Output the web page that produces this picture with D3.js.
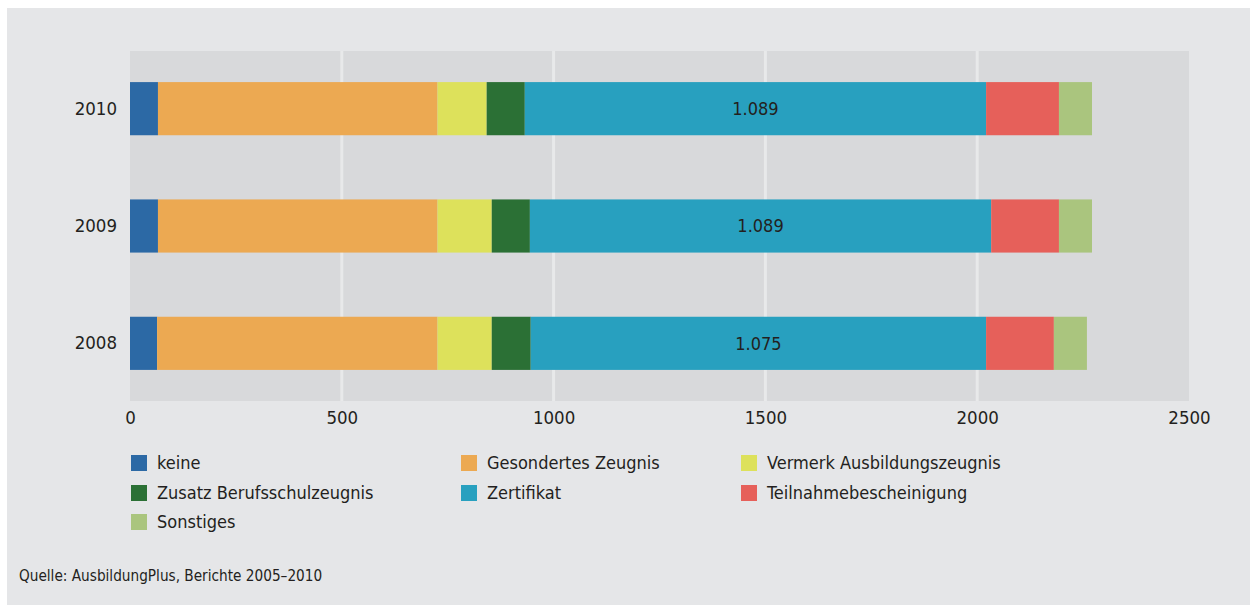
<!DOCTYPE html>
<html>
<head>
<meta charset="utf-8">
<script src="https://cdn.jsdelivr.net/npm/d3@7"></script>
<style>
  html, body { margin: 0; padding: 0; background: #ffffff; }
  svg { display: block; }
  text { font-family: "Liberation Sans Narrow", "DejaVu Sans Condensed", "Liberation Sans", sans-serif; fill: #231f20; }
</style>
</head>
<body>
<svg id="chart" width="1250" height="606"></svg>
<script>
// ---- data ----
const years = ["2010", "2009", "2008"];
const seriesNames = ["keine", "Gesondertes Zeugnis", "Vermerk Ausbildungszeugnis",
  "Zusatz Berufsschulzeugnis", "Zertifikat", "Teilnahmebescheinigung", "Sonstiges"];
const keine       = [66, 66, 64];
const gesondertes = [660, 660, 662];
const vermerk     = [116, 128, 128];
const zusatz      = [90, 90, 92];
const zertifikat  = [1089, 1089, 1075];
const teilnahme   = [172, 160, 160];
const sonstiges   = [78, 78, 78];
const xTicks = [0, 500, 1000, 1500, 2000, 2500];
const colors = ["#2c69a5", "#eca952", "#dde15b", "#2b7035", "#28a0bf", "#e6605a", "#aac57e"];
const sourceText = "Quelle: AusbildungPlus, Berichte 2005–2010";

// ---- build table ----
const seriesValues = [keine, gesondertes, vermerk, zusatz, zertifikat, teilnahme, sonstiges];
const table = years.map((y, i) => {
  const row = { year: y };
  seriesNames.forEach((s, k) => row[s] = seriesValues[k][i]);
  return row;
});

const svg = d3.select("#chart");
// panel background
svg.append("rect").attr("x", 7).attr("y", 8).attr("width", 1243).attr("height", 597).attr("fill", "#e5e6e8");

const plot = { left: 130, right: 1189, top: 51, bottom: 401 };
const x = d3.scaleLinear().domain([0, 2500]).range([plot.left, plot.right]);
const y = d3.scaleBand().domain(years).range([plot.top, plot.bottom]).paddingInner(0.547).paddingOuter(0.265);

// plot background
svg.append("rect").attr("x", plot.left).attr("y", plot.top)
  .attr("width", plot.right - plot.left).attr("height", plot.bottom - plot.top).attr("fill", "#d8d9db");

// gridlines
svg.append("g").selectAll("line").data(xTicks.filter(t => t > 0 && t < 2500)).join("line")
  .attr("x1", d => x(d)).attr("x2", d => x(d))
  .attr("y1", plot.top).attr("y2", plot.bottom)
  .attr("stroke", "#e8e9ea").attr("stroke-width", 3);

// stacked bars
const stack = d3.stack().keys(seriesNames)(table);
const color = d3.scaleOrdinal().domain(seriesNames).range(colors);
svg.append("g").selectAll("g").data(stack).join("g")
  .attr("fill", d => color(d.key))
  .selectAll("rect").data(d => d).join("rect")
  .attr("x", d => x(d[0]))
  .attr("width", d => x(d[1]) - x(d[0]))
  .attr("y", d => y(d.data.year))
  .attr("height", y.bandwidth());

// Zertifikat labels
const zs = stack.find(s => s.key === "Zertifikat");
svg.append("g").selectAll("text").data(zs).join("text")
  .attr("x", d => (x(d[0]) + x(d[1])) / 2)
  .attr("y", d => y(d.data.year) + y.bandwidth() / 2)
  .attr("dy", "0.36em")
  .attr("text-anchor", "middle")
  .style("font-size", "18px")
  .text(d => d3.format(",")(d.data["Zertifikat"]).replace(/,/g, "."));

// x axis
const xAxis = svg.append("g").attr("transform", `translate(0,${plot.bottom})`)
  .call(d3.axisBottom(x).tickValues(xTicks).tickSize(0).tickPadding(10).tickFormat(d3.format("d")));
xAxis.select(".domain").remove();
xAxis.selectAll("text").style("font-size", "18.5px").attr("fill", "#231f20").attr("font-family", null);

// y axis
const yAxis = svg.append("g").attr("transform", `translate(${plot.left},0)`)
  .call(d3.axisLeft(y).tickSize(0).tickPadding(13));
yAxis.select(".domain").remove();
yAxis.selectAll("text").style("font-size", "18.5px").attr("fill", "#231f20").attr("font-family", null);

// legend
const legCols = [131, 461, 741];
const legRows = [455, 485, 514];
const legend = svg.append("g");
seriesNames.forEach((s, i) => {
  const cx = legCols[i % 3], cy = legRows[Math.floor(i / 3)];
  legend.append("rect").attr("x", cx).attr("y", cy).attr("width", 16).attr("height", 16).attr("fill", colors[i]);
  legend.append("text").attr("x", cx + 26).attr("y", cy + 8).attr("dy", "0.36em")
    .style("font-size", "18px").text(s);
});

// source
svg.append("text").attr("x", 19).attr("y", 581).style("font-size", "15.2px").attr("fill", "#333").text(sourceText);
</script>
</body>
</html>
